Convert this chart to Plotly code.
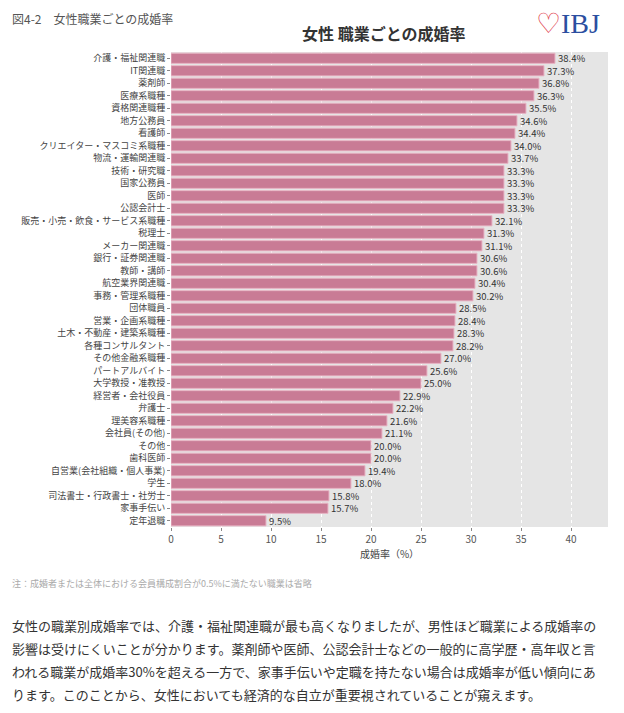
import plotly.graph_objects as go

categories = ["介護・福祉関連職","IT関連職","薬剤師","医療系職種","資格関連職種","地方公務員","看護師","クリエイター・マスコミ系職種","物流・運輸関連職","技術・研究職","国家公務員","医師","公認会計士","販売・小売・飲食・サービス系職種","税理士","メーカー関連職","銀行・証券関連職","教師・講師","航空業界関連職","事務・管理系職種","団体職員","営業・企画系職種","土木・不動産・建築系職種","各種コンサルタント","その他金融系職種","パートアルバイト","大学教授・准教授","経営者・会社役員","弁護士","理美容系職種","会社員(その他)","その他","歯科医師","自営業(会社組織・個人事業)","学生","司法書士・行政書士・社労士","家事手伝い","定年退職"]
values = [38.4,37.3,36.8,36.3,35.5,34.6,34.4,34.0,33.7,33.3,33.3,33.3,33.3,32.1,31.3,31.1,30.6,30.6,30.4,30.2,28.5,28.4,28.3,28.2,27.0,25.6,25.0,22.9,22.2,21.6,21.1,20.0,20.0,19.4,18.0,15.8,15.7,9.5]
ticks = [0,5,10,15,20,25,30,35,40]
paragraph = ["女性の職業別成婚率では、介護・福祉関連職が最も高くなりましたが、男性ほど職業による成婚率の",
             "影響は受けにくいことが分かります。薬剤師や医師、公認会計士などの一般的に高学歴・高年収と言",
             "われる職業が成婚率30%を超える一方で、家事手伝いや定職を持たない場合は成婚率が低い傾向にあ",
             "ります。このことから、女性においても経済的な自立が重要視されていることが窺えます。"]

F = "Noto Sans CJK JP"
OX, OY = 8, 8  # page body offset
W, H = 624, 713
L, T, R, B = 171 - OX, 52 - OY, 608 - OX, 527 - OY
fig = go.Figure(go.Bar(
    x=values, y=categories, orientation="h",
    marker=dict(color="#c97b95", line=dict(color="#e8b7c6", width=1)),
    width=0.82,
    text=[f"{v:.1f}%" for v in values], textposition="outside", constraintext="none",
    textfont=dict(size=9.5, color="#333", family=F), cliponaxis=False,
))
fig.update_layout(
    width=W, height=H, margin=dict(l=L, r=W - R, t=T, b=H - B, autoexpand=False),
    paper_bgcolor="white", plot_bgcolor="#e5e5e5",
    font=dict(family=F, size=9, color="#444"), showlegend=False,
    uniformtext=dict(minsize=9, mode="show"),
    xaxis=dict(range=[0, 43.7], tickvals=ticks, gridcolor="white", griddash="dot",
               zeroline=False, title=dict(text="成婚率（%）", font=dict(size=10), standoff=4),
               tickfont=dict(size=10, color="#555"), ticks="outside", ticklen=3, tickcolor="#888",
               automargin=False),
    yaxis=dict(autorange="reversed", showgrid=False, ticks="outside", ticklen=3,
               tickcolor="#888", tickfont=dict(size=9, color="#444"), automargin=False),
)
def px(x): return (x - OX - L) / (R - L)
def py(y): return (B - (y - OY)) / (B - T)
ann = [
    dict(text="図4-2　女性職業ごとの成婚率", x=10, y=8, size=12, color="#555", anchor="top"),
    dict(text="<b>女性 職業ごとの成婚率</b>", x=300, y=33, size=16, color="#333", anchor="middle"),
    dict(text="注：成婚者または全体における会員構成割合が0.5%に満たない職業は省略", x=10, y=583, size=9, color="#aaa", anchor="middle"),
]
for i, line in enumerate(paragraph):
    ann.append(dict(text=line, x=10, y=625 + 23 * i, size=13, color="#333", anchor="middle"))
for a in ann:
    fig.add_annotation(text=a["text"], xref="paper", yref="paper",
        x=px(a["x"]), y=py(a["y"]), xanchor="left", yanchor=a["anchor"],
        showarrow=False, align="left", font=dict(size=a["size"], color=a["color"], family=F))
fig.add_annotation(text="<span style='color:#e03c4b'>♡</span>IBJ", xref="paper", yref="paper",
    x=px(602), y=py(24), xanchor="right", yanchor="middle", showarrow=False,
    font=dict(size=28, color="#2b4ea0", family="Liberation Serif"))
fig.write_html("out.html")
